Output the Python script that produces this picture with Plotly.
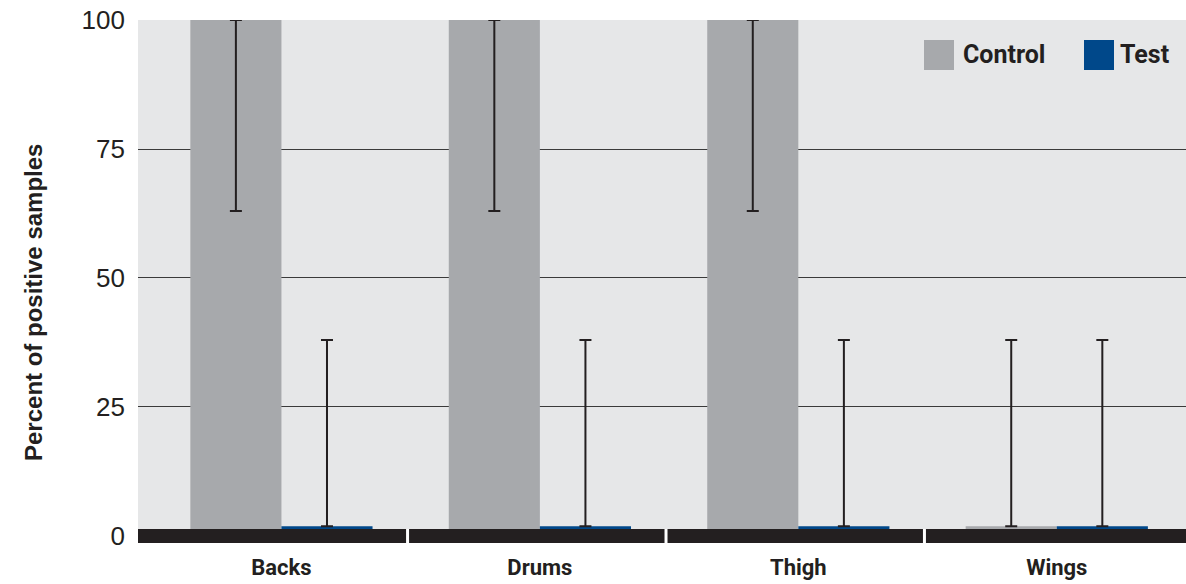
import plotly.graph_objects as go

categories = ["Backs", "Drums", "Thigh", "Wings"]
control_values = [100, 100, 100, 1.9]
control_err_upper = [100, 100, 100, 38]
control_err_lower = [63, 63, 63, 1.9]
test_values = [1.9, 1.9, 1.9, 1.9]
test_err_upper = [38, 38, 38, 38]
test_err_lower = [1.9, 1.9, 1.9, 1.9]
y_ticks = [0, 25, 50, 75, 100]

INK = "#231f20"
GRAY = "#a7a9ac"
BLUE = "#00488a"

def err(vals, up, lo):
    return dict(type="data", symmetric=False,
                array=[u - v for u, v in zip(up, vals)],
                arrayminus=[v - l for v, l in zip(vals, lo)],
                color=INK, thickness=2, width=6)

fig = go.Figure()
fig.add_trace(go.Bar(name="Control", x=categories, y=control_values, marker_color=GRAY,
                     marker_line_width=0, error_y=err(control_values, control_err_upper, control_err_lower)))
fig.add_trace(go.Bar(name="Test", x=categories, y=test_values, marker_color=BLUE,
                     marker_line_width=0, error_y=err(test_values, test_err_upper, test_err_lower)))

shapes = [
    dict(type="rect", xref="paper", yref="y", x0=0, x1=1, y0=-1.36, y1=1.35,
         fillcolor=INK, line_width=0, layer="above"),
]
for b in [0.5, 1.5, 2.5]:
    shapes.append(dict(type="line", xref="x", yref="y", x0=b - 0.012, x1=b - 0.012, y0=-1.36, y1=1.35,
                       line=dict(color="white", width=3), layer="above"))

# legend swatches
W, L, T, B = 1186, 138, 20, 543
def px(xp): return (xp - L) / (W - L)
def py(yp): return (B - yp) / (B - T)
shapes.append(dict(type="rect", xref="paper", yref="paper", x0=px(924), x1=px(954), y0=py(70), y1=py(40),
                   fillcolor=GRAY, line_width=0))
shapes.append(dict(type="rect", xref="paper", yref="paper", x0=px(1084), x1=px(1114), y0=py(70), y1=py(40),
                   fillcolor=BLUE, line_width=0))

LEG_FONT = dict(family="Roboto", size=25, color=INK, weight="bold")
annotations = [
    dict(text="Control", xref="paper", yref="paper", x=px(961), y=py(55), xanchor="left", yanchor="middle",
         showarrow=False, font=LEG_FONT),
    dict(text="Test", xref="paper", yref="paper", x=px(1118), y=py(55), xanchor="left", yanchor="middle",
         showarrow=False, font=LEG_FONT),
    dict(text="Percent of positive samples", xref="paper", yref="paper", x=px(33), y=py(303),
         xanchor="center", yanchor="middle", textangle=-90, showarrow=False,
         font=dict(family="Liberation Sans", size=24, color=INK, weight="bold")),
]

fig.update_layout(
    width=1186, height=584,
    margin=dict(l=138, r=0, t=20, b=41),
    paper_bgcolor="white", plot_bgcolor="#e6e7e8",
    barmode="group", bargap=0.295, bargroupgap=0,
    showlegend=False,
    shapes=shapes, annotations=annotations,
    xaxis=dict(type="category", range=[-0.555, 3.5], showgrid=False, zeroline=False, showline=False,
               ticks="", ticklabelstandoff=9,
               tickfont=dict(family="Roboto", size=22, color=INK, weight="bold")),
    yaxis=dict(range=[-1.36, 100], tickvals=y_ticks, showgrid=True, gridcolor="#3a3a3a", gridwidth=1,
               zeroline=False, showline=False, ticks="", ticklabelstandoff=12,
               tickfont=dict(family="Liberation Sans", size=26, color=INK)),
)

fig.write_html("out.html", config={"displayModeBar": False},
               post_script="document.body.style.margin='0';")
